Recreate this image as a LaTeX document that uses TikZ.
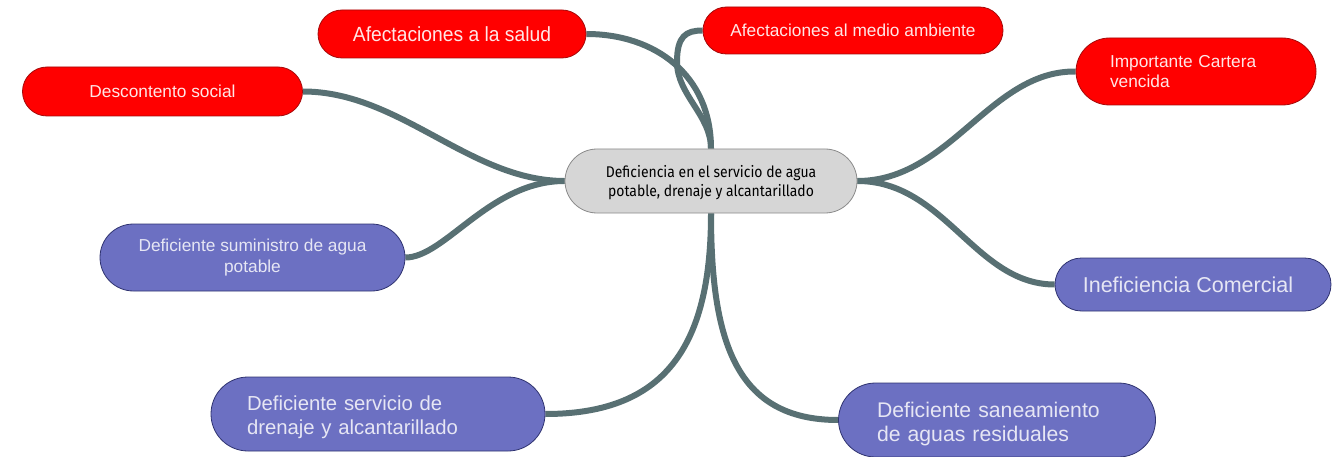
\documentclass[tikz,border=0pt]{standalone}
\usepackage{fontspec}
\setmainfont{Liberation Sans}
\newfontfamily\condfont[FakeStretch=0.90]{Fira Sans}
\newfontfamily\narrowfont[FakeStretch=0.94]{Liberation Sans}
\usetikzlibrary{backgrounds}
\definecolor{redfill}{HTML}{FF0000}
\definecolor{redline}{HTML}{A50A0A}
\definecolor{redtext}{HTML}{FFE6E6}
\definecolor{purfill}{HTML}{6C70C2}
\definecolor{purline}{HTML}{2F3370}
\definecolor{purtext}{HTML}{E6E6F4}
\definecolor{cenfill}{HTML}{D6D6D6}
\definecolor{cenline}{HTML}{8A8A8A}
\definecolor{linkcol}{HTML}{587073}
\tikzset{
  pill/.style 2 args={draw, line width=0.8pt, inner sep=0pt, minimum width=#1, minimum height=#2, rounded corners=#2/2},
  redpill/.style={fill=redfill, draw=redline, text=redtext},
  purpill/.style={fill=purfill, draw=purline, text=purtext},
  cenpill/.style={fill=cenfill, draw=cenline, text=black},
  link/.style={draw=linkcol, line width=6pt}
}
\begin{document}
\begin{tikzpicture}[x=1pt,y=-1pt]
\useasboundingbox (0,0) rectangle (1343,457);
\node[pill={292pt}{64pt}, cenpill, align=center, font=\condfont\fontsize{15.5}{19}\selectfont] (cen) at (711,181) {\rule{0pt}{16pt}Deficiencia en el servicio de agua\\potable, drenaje y alcantarillado};
\node[pill={268pt}{48pt}, redpill, font=\narrowfont\fontsize{20.5}{24}\selectfont] (salud) at (452,34) {Afectaciones a la salud};
\node[pill={300pt}{47pt}, redpill, font=\fontsize{17.3}{20}\selectfont] (env) at (853,30.5) {Afectaciones al medio ambiente};
\node[pill={280pt}{49pt}, redpill, font=\fontsize{17.3}{20}\selectfont] (desc) at (162.5,91.5) {Descontento social};
\node[pill={240pt}{67pt}, redpill, text width=172pt, align=left, font=\fontsize{17.3}{20.5}\selectfont] (cart) at (1196,71.5) {Importante Cartera\\vencida};
\node[pill={305pt}{67pt}, purpill, align=center, font=\fontsize{17.3}{21}\selectfont] (sum) at (252.5,257.5) {Deficiente suministro de agua\\potable};
\node[pill={276pt}{53pt}, purpill, font=\fontsize{21.5}{24}\selectfont] (inef) at (1193,284.5) {\hspace*{-10pt}Ineficiencia Comercial};
\node[pill={334pt}{74pt}, purpill, text width=262pt, align=left, font=\fontsize{20.3}{24}\selectfont] (dren) at (378,414) {\rule{0pt}{21pt}Deficiente servicio de\\drenaje y alcantarillado};
\node[pill={317pt}{74pt}, purpill, text width=240pt, align=left, font=\fontsize{21.2}{24}\selectfont] (san) at (997,420) {\rule{0pt}{23pt}Deficiente saneamiento\\de aguas residuales};
\begin{pgfonlayer}{background}
\draw[link] (cen.west) .. controls (470,181) and (400,91.5) .. (desc.east);
\draw[link] (cen.west) .. controls (490,181) and (445,257.5) .. (sum.east);
\draw[link] (cen.north) .. controls (711,75) and (655,34) .. (salud.east);
\draw[link] (cen.north) .. controls (711,115) and (677,95) .. (677,62) .. controls (677,36) and (686,30.5) .. (env.west);
\draw[link] (cen.east) .. controls (950,181) and (990,70.5) .. (cart.west);
\draw[link] (cen.east) .. controls (945,181) and (975,284.5) .. (inef.west);
\draw[link] (cen.south) .. controls (711,340) and (670,414) .. (dren.east);
\draw[link] (cen.south) .. controls (711,340) and (735,420) .. (san.west);
\end{pgfonlayer}
\end{tikzpicture}
\end{document}
